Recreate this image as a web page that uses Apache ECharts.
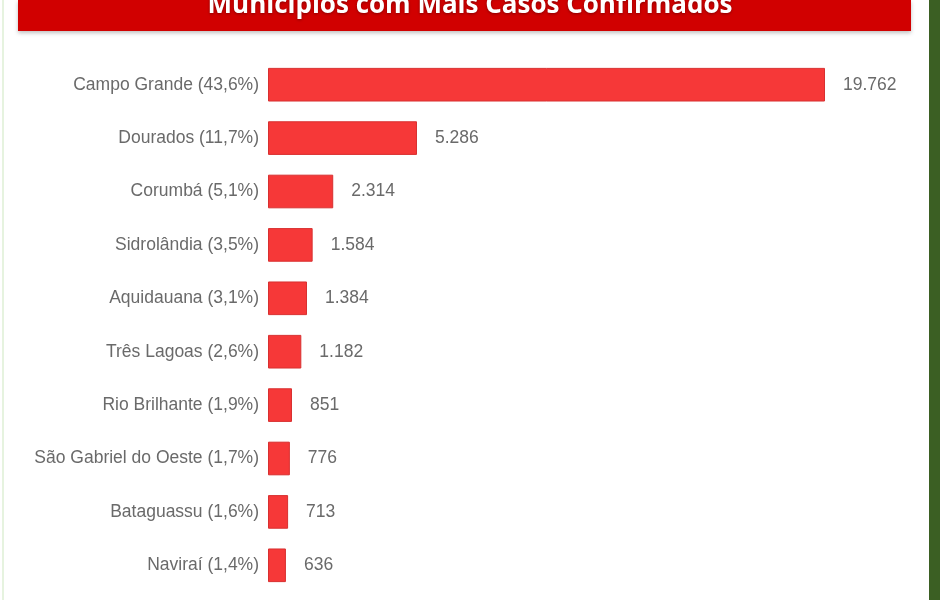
<!DOCTYPE html>
<html>
<head>
<meta charset="utf-8">
<script src="https://cdn.jsdelivr.net/npm/echarts@6/dist/echarts.min.js"></script>
<style>
  html, body { margin: 0; padding: 0; background: #ffffff; }
  #chart { width: 940px; height: 600px; }
</style>
</head>
<body>
<div id="chart"></div>
<script>
const titleText = "Municípios com Mais Casos Confirmados";
const municipios = [
  "Campo Grande (43,6%)",
  "Dourados (11,7%)",
  "Corumbá (5,1%)",
  "Sidrolândia (3,5%)",
  "Aquidauana (3,1%)",
  "Três Lagoas (2,6%)",
  "Rio Brilhante (1,9%)",
  "São Gabriel do Oeste (1,7%)",
  "Bataguassu (1,6%)",
  "Naviraí (1,4%)",
];
const casos = [19762, 5286, 2314, 1584, 1384, 1182, 851, 776, 713, 636];

function formatBR(v) {
  return String(v).replace(/\B(?=(\d{3})+(?!\d))/g, ".");
}

const chart = echarts.init(document.getElementById("chart"));

chart.setOption({
  animation: false,
  backgroundColor: "#ffffff",
  title: {
    text: titleText,
    left: "center",
    top: -12,
    textStyle: {
      color: "#ffffff",
      fontFamily: "Open Sans",
      fontWeight: "bold",
      fontSize: 26,
      textShadowColor: "rgba(0,0,0,0.35)",
      textShadowBlur: 3,
      textShadowOffsetY: 1,
    },
  },
  graphic: [
    {
      type: "rect",
      z: -1,
      shape: { x: 18, y: 0, width: 893, height: 31 },
      style: { fill: "#d10000", shadowColor: "rgba(0,0,0,0.25)", shadowBlur: 4, shadowOffsetY: 2 },
    },
    {
      type: "rect",
      shape: { x: 929, y: 0, width: 11, height: 600 },
      style: { fill: "#3b5f23" },
    },
    {
      type: "rect",
      shape: { x: 2, y: 0, width: 2, height: 600 },
      style: { fill: "#e6f3df" },
    },
  ],
  grid: { left: 268, top: 58, width: 557, height: 534 },
  xAxis: {
    type: "value",
    min: 0,
    max: 19762,
    show: false,
  },
  yAxis: {
    type: "category",
    inverse: true,
    data: municipios,
    axisLine: { show: false },
    axisTick: { show: false },
    axisLabel: {
      color: "#6a6a6a",
      fontFamily: "Liberation Sans",
      fontSize: 17.5,
      margin: 9,
    },
  },
  series: [
    {
      type: "bar",
      data: casos,
      barCategoryGap: "37%",
      itemStyle: {
        color: "#f63838",
        borderColor: "#d83030",
        borderWidth: 1,
      },
      label: {
        show: true,
        position: "right",
        distance: 18,
        color: "#6a6a6a",
        fontFamily: "Liberation Sans",
        fontSize: 17.5,
        formatter: (p) => formatBR(p.value),
      },
    },
  ],
});
</script>
</body>
</html>
